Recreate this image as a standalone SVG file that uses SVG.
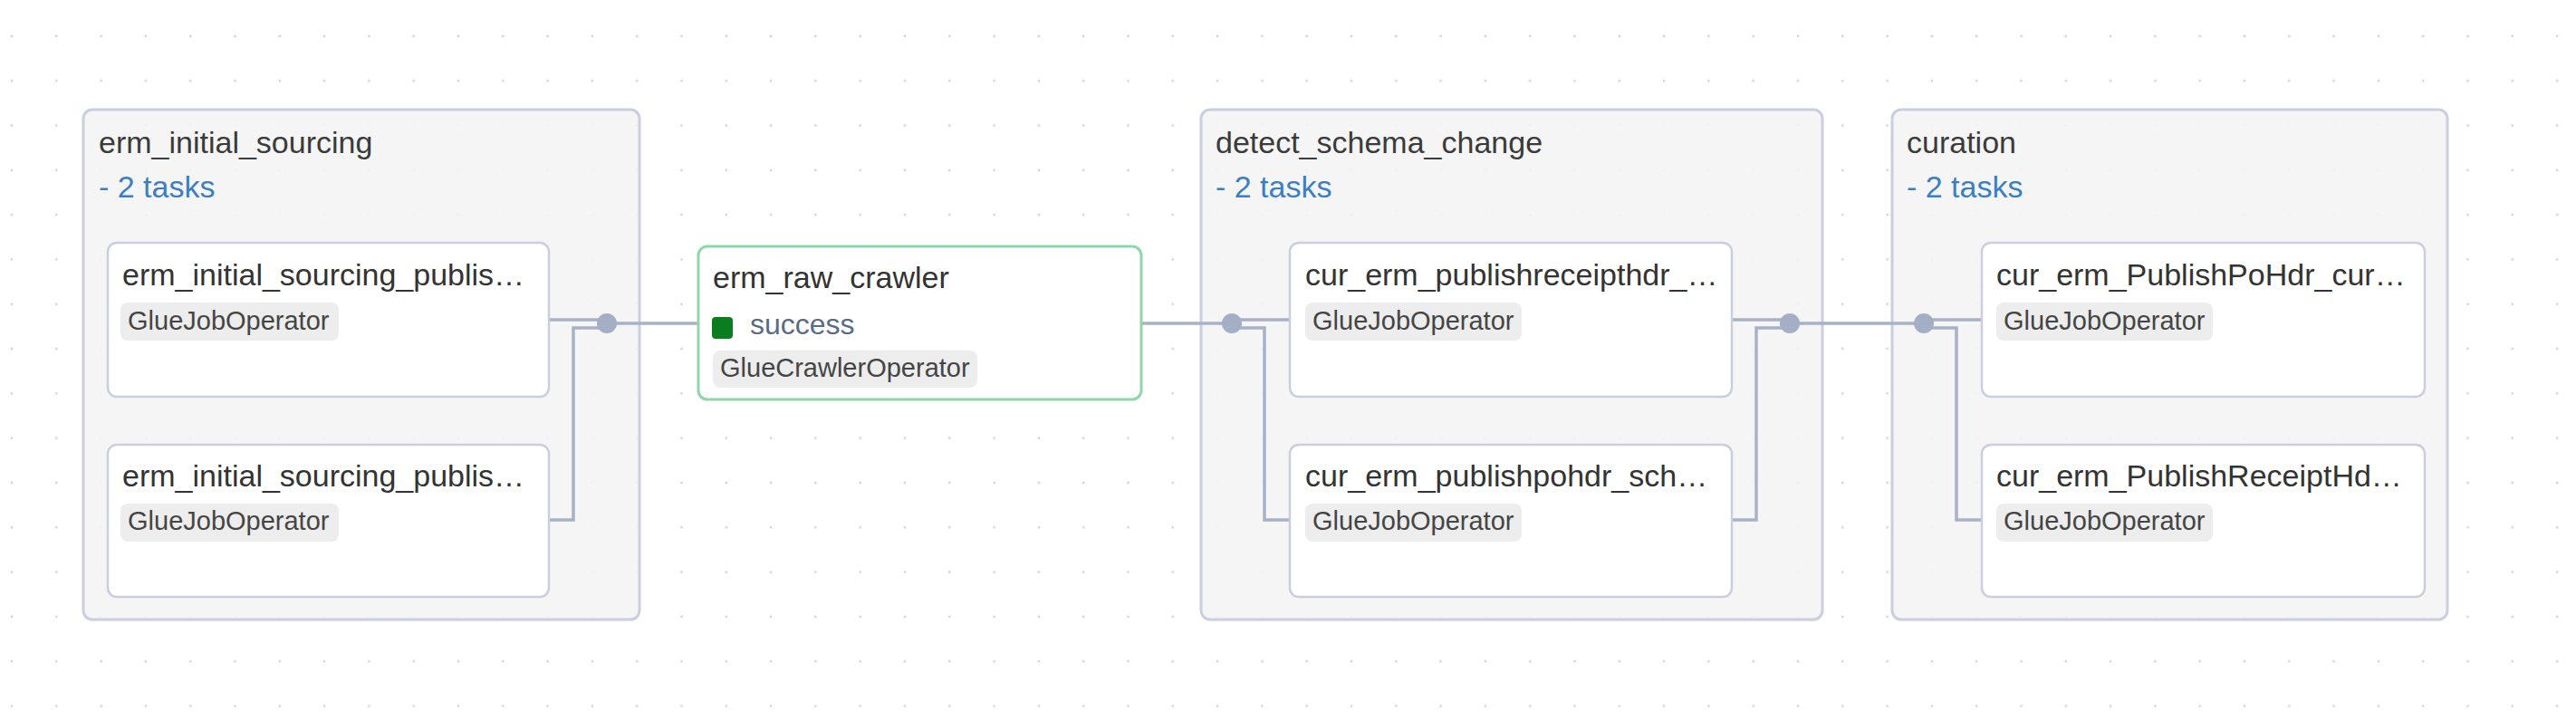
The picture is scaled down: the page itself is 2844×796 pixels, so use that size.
<svg xmlns="http://www.w3.org/2000/svg" width="2844" height="796" viewBox="0 0 2844 796">
  <defs>
    <pattern id="grid" x="-11.65" y="15.35" width="49.3" height="49.3" patternUnits="userSpaceOnUse">
      <circle cx="24.65" cy="24.65" r="1.4" fill="#d3d5dc"/>
    </pattern>
    <style>
      .cluster { fill: #f4f4f5; fill-opacity: 0.88; stroke: #c9d0dd; stroke-width: 3; }
      .task { fill: #ffffff; stroke: #c9cfdc; stroke-width: 2.5; }
      .task.ok { stroke: #8fd6aa; stroke-width: 3; }
      .badge { fill: #ededed; }
      .h { font-family: "Liberation Sans", Arial, sans-serif; font-size: 34px; fill: #3b3b3b; }
      .cnt { font-family: "Liberation Sans", Arial, sans-serif; font-size: 34px; fill: #3b7fc2; }
      .name { font-family: "Liberation Sans", Arial, sans-serif; font-size: 34px; fill: #333333; }
      .op { font-family: "Liberation Sans", Arial, sans-serif; font-size: 29px; fill: #454545; }
      .st { font-family: "Liberation Sans", Arial, sans-serif; font-size: 32px; fill: #5b6b86; }
      .edge { fill: none; stroke: #a7b1c7; stroke-width: 3.5; }
      .dot { fill: #a4aec5; }
    </style>
  </defs>
  <rect width="2844" height="796" fill="#ffffff"/>
  <rect width="2844" height="796" fill="url(#grid)"/>

  <g id="group-erm_initial_sourcing">
    <rect class="cluster" x="92" y="121" width="614" height="563" rx="10"/>
    <text class="h" x="109" y="169">erm_initial_sourcing</text>
    <text class="cnt" x="109" y="218">- 2 tasks</text>
  </g>
  <g id="group-detect_schema_change">
    <rect class="cluster" x="1326" y="121" width="686" height="563" rx="10"/>
    <text class="h" x="1342" y="169">detect_schema_change</text>
    <text class="cnt" x="1342" y="218">- 2 tasks</text>
  </g>
  <g id="group-curation">
    <rect class="cluster" x="2089" y="121" width="613" height="563" rx="10"/>
    <text class="h" x="2105" y="169">curation</text>
    <text class="cnt" x="2105" y="218">- 2 tasks</text>
  </g>

  <g id="connectors">
    <path class="edge" d="M606,353 H670"/>
    <path class="edge" d="M606,574 H633 V362 H670"/>
    <path class="edge" d="M670,357 H771"/>
    <path class="edge" d="M1260,357 H1360"/>
    <path class="edge" d="M1360,353 H1424"/>
    <path class="edge" d="M1360,362 H1396 V574 H1424"/>
    <path class="edge" d="M1912,353 H1976"/>
    <path class="edge" d="M1912,574 H1939 V362 H1976"/>
    <path class="edge" d="M1976,357 H2124"/>
    <path class="edge" d="M2124,353 H2188"/>
    <path class="edge" d="M2124,362 H2160 V574 H2188"/>
    <circle class="dot" cx="670" cy="357" r="11"/>
    <circle class="dot" cx="1360" cy="357" r="11"/>
    <circle class="dot" cx="1976" cy="357" r="11"/>
    <circle class="dot" cx="2124" cy="357" r="11"/>
  </g>

  <g id="task-erm_initial_sourcing_1">
    <rect class="task" x="119" y="268" width="487" height="170" rx="10"/>
    <text class="name" x="135" y="315">erm_initial_sourcing_publis…</text>
    <rect class="badge" x="133" y="334" width="241" height="42" rx="8"/>
    <text class="op" x="141" y="364">GlueJobOperator</text>
  </g>
  <g id="task-erm_initial_sourcing_2">
    <rect class="task" x="119" y="491" width="487" height="168" rx="10"/>
    <text class="name" x="135" y="537">erm_initial_sourcing_publis…</text>
    <rect class="badge" x="133" y="556" width="241" height="42" rx="8"/>
    <text class="op" x="141" y="585">GlueJobOperator</text>
  </g>

  <g id="task-erm_raw_crawler">
    <rect class="task ok" x="771" y="272" width="489" height="169" rx="10"/>
    <text class="name" x="787" y="318">erm_raw_crawler</text>
    <rect x="786" y="350" width="23" height="24" rx="4" fill="#0a7d1e"/>
    <text class="st" x="828" y="369">success</text>
    <rect class="badge" x="787" y="387" width="292" height="41" rx="8"/>
    <text class="op" x="795" y="416">GlueCrawlerOperator</text>
  </g>

  <g id="task-detect_schema_change_1">
    <rect class="task" x="1424" y="268" width="488" height="170" rx="10"/>
    <text class="name" x="1441" y="315">cur_erm_publishreceipthdr_…</text>
    <rect class="badge" x="1441" y="334" width="239" height="42" rx="8"/>
    <text class="op" x="1449" y="364">GlueJobOperator</text>
  </g>
  <g id="task-detect_schema_change_2">
    <rect class="task" x="1424" y="491" width="488" height="168" rx="10"/>
    <text class="name" x="1441" y="537">cur_erm_publishpohdr_sch…</text>
    <rect class="badge" x="1441" y="556" width="239" height="42" rx="8"/>
    <text class="op" x="1449" y="585">GlueJobOperator</text>
  </g>

  <g id="task-curation_1">
    <rect class="task" x="2188" y="268" width="489" height="170" rx="10"/>
    <text class="name" x="2204" y="315">cur_erm_PublishPoHdr_cur…</text>
    <rect class="badge" x="2204" y="334" width="239" height="42" rx="8"/>
    <text class="op" x="2212" y="364">GlueJobOperator</text>
  </g>
  <g id="task-curation_2">
    <rect class="task" x="2188" y="491" width="489" height="168" rx="10"/>
    <text class="name" x="2204" y="537">cur_erm_PublishReceiptHd…</text>
    <rect class="badge" x="2204" y="556" width="239" height="42" rx="8"/>
    <text class="op" x="2212" y="585">GlueJobOperator</text>
  </g>
</svg>
